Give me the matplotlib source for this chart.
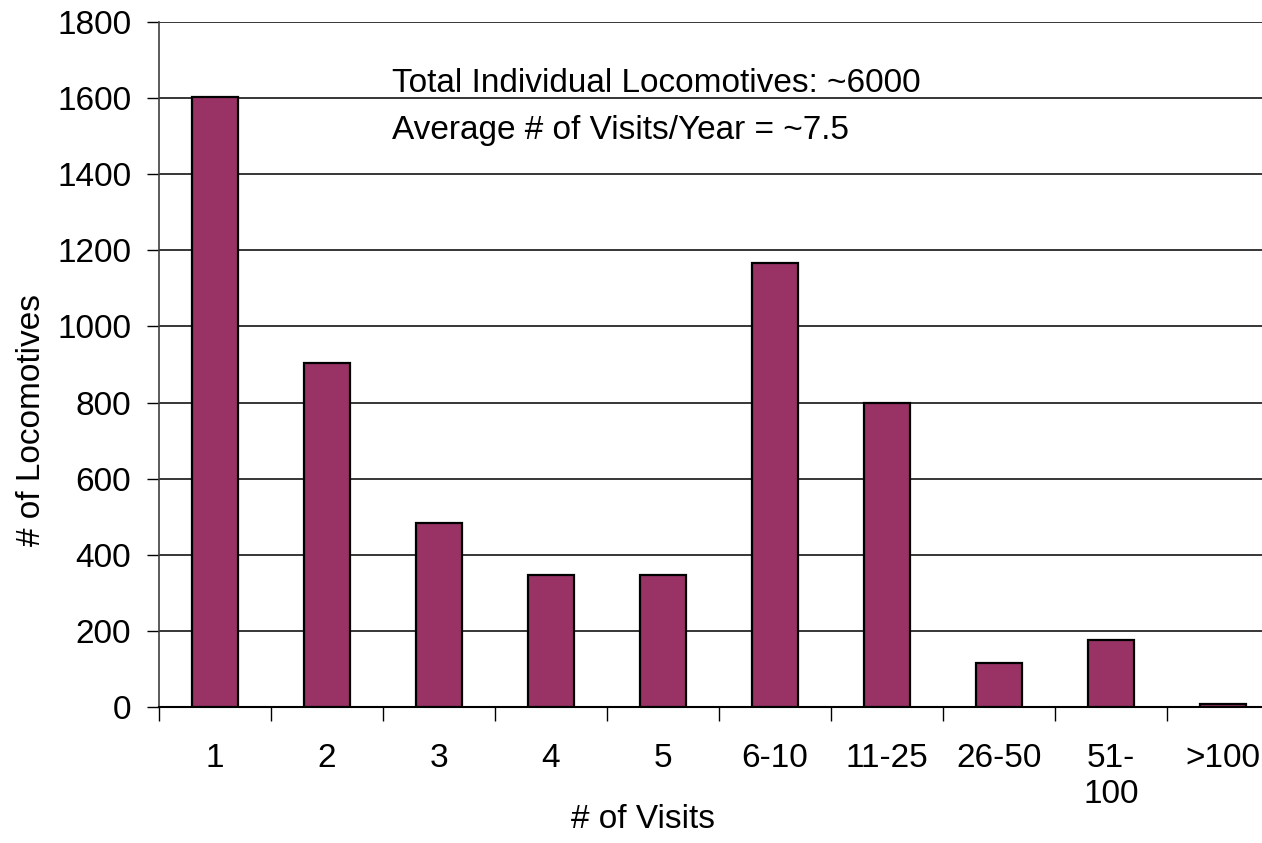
import matplotlib.pyplot as plt
import numpy as np

plt.rcParams['font.family'] = ['Liberation Sans', 'DejaVu Sans']

# visit buckets and locomotive counts
visits = ["1", "2", "3", "4", "5", "6-10", "11-25", "26-50", "51-\n100", ">100"]
locos = [1603, 905, 483, 348, 346, 1168, 799, 116, 177, 7]

BAR_COLOR = "#993366"
FS = 24
W, H = 1262, 843

fig = plt.figure(figsize=(W / 100, H / 100), dpi=100)
# right edge of the plot runs past the figure edge
ax = fig.add_axes([0.126, 0.1613, 0.8875, 0.8126])

x = np.arange(len(visits))
ax.bar(x, locos, width=0.41, color=BAR_COLOR, edgecolor="black", linewidth=1.6, zorder=3)

ax.set_xlim(-0.5, len(visits) - 0.5)
ax.set_ylim(0, 1800)
ax.set_yticks(np.arange(0, 1801, 200))
ax.grid(axis="y", color="black", linewidth=1.1, zorder=0)

# category labels centred, tick marks between categories
ax.set_xticks(x)
ax.set_xticklabels(visits, fontsize=FS, linespacing=1.2)
ax.tick_params(axis="x", which="major", length=0, pad=26)
ax.set_xticks(np.arange(-0.5, len(visits)), minor=True)
ax.tick_params(axis="x", which="minor", length=10, width=1, direction="out")
ax.tick_params(axis="y", labelsize=FS, length=9, width=1, pad=11)

for s in ["top", "right"]:
    ax.spines[s].set_visible(False)
ax.spines["left"].set_color("#404040")
ax.spines["left"].set_linewidth(1.2)
ax.spines["bottom"].set_linewidth(1.5)

# axis titles placed in figure pixels
fig.text(643 / W, 1 - 820 / H, "# of Visits", fontsize=FS, ha="center", va="center")
fig.text(32 / W, 1 - 420 / H, "# of Locomotives", fontsize=FS, ha="center", va="center",
         rotation=90)

ax.text(1.58, 1615, "Total Individual Locomotives: ~6000", fontsize=FS, va="baseline")
ax.text(1.58, 1492, "Average # of Visits/Year = ~7.5", fontsize=FS, va="baseline")

plt.savefig("out.png", dpi=100)
